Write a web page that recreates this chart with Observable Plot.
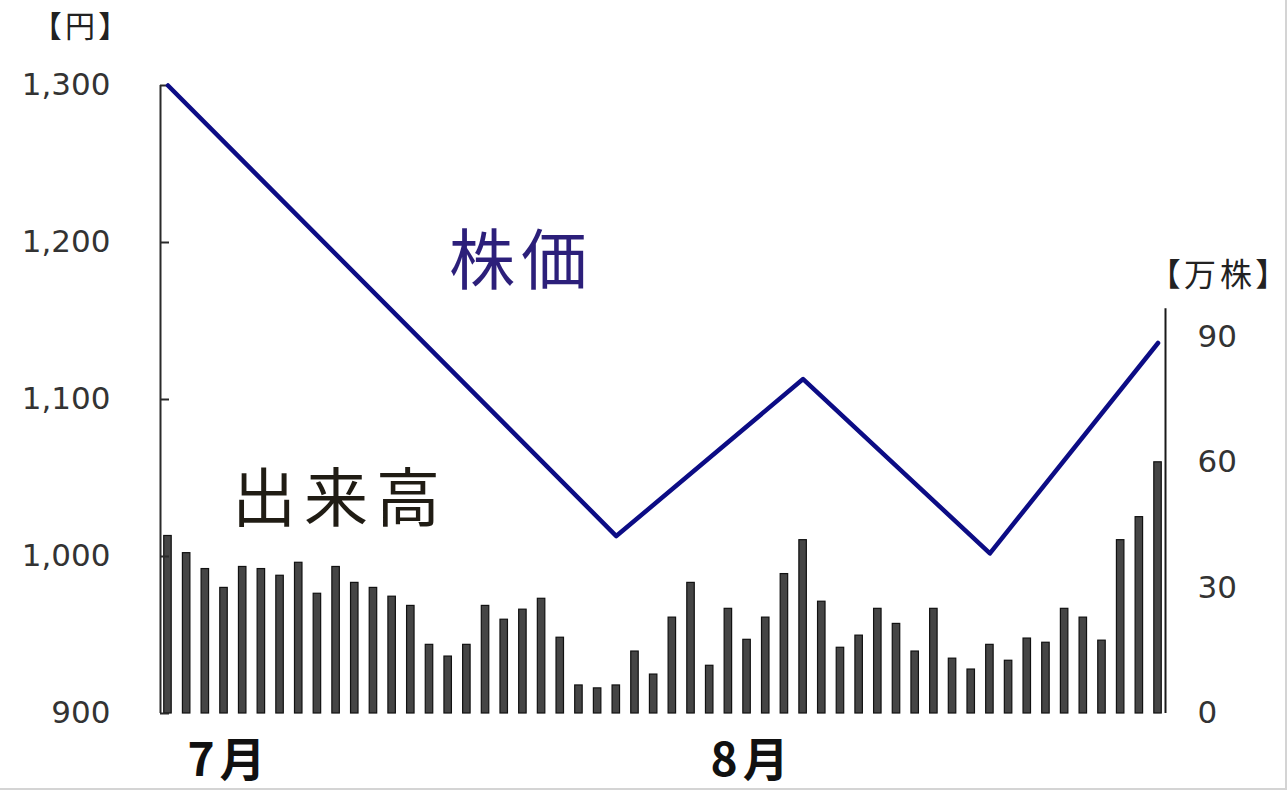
<!DOCTYPE html>
<html><head><meta charset="utf-8">
<script src="https://cdn.jsdelivr.net/npm/d3@7"></script>
<script src="https://cdn.jsdelivr.net/npm/@observablehq/plot@0.6"></script>
<style>
body{margin:0;background:#fff;}
#wrap{position:relative;width:1288px;height:791px;overflow:hidden;background:#fff;}
#wrap svg{position:absolute;left:0;top:0;background:transparent;max-width:none;}
#frame{position:absolute;left:0;top:0;width:1285px;height:788px;border-right:2px solid #d4d4d4;border-bottom:2px solid #d4d4d4;box-sizing:content-box;}
.lbl{position:absolute;transform:translate(-50%,-50%);white-space:nowrap;line-height:1;font-family:"Noto Sans CJK JP",sans-serif;font-feature-settings:"palt";}
.volplot g[aria-label="x-axis tick label"] text{letter-spacing:5px;}
</style></head><body>
<div id="wrap"><div id="frame"></div></div>
<script>
// trading days (category index) and daily volume in 万株
const days = d3.range(1, 55);
const volumes = [42.4,38.3,34.5,30.0,35.0,34.5,32.9,36.0,28.6,35.0,
                 31.2,30.0,27.9,25.7,16.4,13.6,16.4,25.7,22.4,24.8,
                 27.4,18.1,6.7,6.0,6.7,14.8,9.3,22.9,31.2,11.4,
                 25.0,17.6,22.9,33.3,41.4,26.7,15.7,18.6,25.0,21.4,
                 14.8,25.0,13.1,10.5,16.4,12.6,17.9,16.9,25.0,22.9,
                 17.4,41.4,46.9,60.0];
// share price turning points (円)
const priceDays = [1, 25, 35, 45, 54];
const prices = [1300, 1013, 1113, 1002, 1136];
// axis ticks
const priceTicks = [900, 1000, 1100, 1200, 1300];
const volTicks = [0, 30, 60, 90];
const volAxisTop = 96.7;
const monthTickDays = [4, 32];
const monthLabels = ["7月", "8月"];

const volData = days.map((d, i) => ({day: d, vol: volumes[i]}));
const priceData = priceDays.map((d, i) => ({day: d, price: prices[i]}));

const W = 1288, H = 791, mL = 160, mR = 123, mT = 85, mB = 78;
const xDomain = [0.6, 54.4];
const numFont = "DejaVu Sans";
const common = {width: W, height: H, marginLeft: mL, marginRight: mR, marginTop: mT, marginBottom: mB,
  style: {background: "transparent", color: "#2a2a2a", overflow: "visible"}};

const volPlot = Plot.plot({
  ...common,
  className: "volplot",
  x: {domain: xDomain, axis: null},
  y: {domain: [0, 150], axis: null},
  marks: [
    Plot.rectY(volData, {x1: d => d.day - 0.2, x2: d => d.day + 0.2, y: "vol", fill: "#454545", stroke: "#111", strokeWidth: 1.2}),
    Plot.ruleX([xDomain[1]], {y1: 0, y2: volAxisTop, stroke: "#1a1a1a", strokeWidth: 2}),
    Plot.axisY({anchor: "right", ticks: volTicks, tickSize: 0, tickPadding: 32, label: null,
      fontSize: 31, fontFamily: numFont, fill: "#333"}),
    Plot.axisX({anchor: "bottom", ticks: monthTickDays, tickSize: 0, tickPadding: 30, label: null,
      tickFormat: d => monthLabels[monthTickDays.indexOf(d)], dx: 5,
      fontSize: 46, fontWeight: "bold", fontFamily: "Noto Sans CJK JP", fill: "#111"})
  ]
});

const pricePlot = Plot.plot({
  ...common,
  x: {domain: xDomain, axis: null},
  y: {domain: [900, 1300], axis: null},
  marks: [
    Plot.ruleX([xDomain[0]], {stroke: "#2a2a2a", strokeWidth: 2}),
    Plot.tickY(priceTicks, {y: d => d, insetRight: (W - mL - mR) - 9, stroke: "#2a2a2a", strokeWidth: 2}),
    Plot.axisY({anchor: "left", ticks: priceTicks, tickSize: 0, tickPadding: 50, label: null,
      tickFormat: d3.format(","), fontSize: 31, fontFamily: numFont, fill: "#333"}),
    Plot.line(priceData, {x: "day", y: "price", stroke: "#0c0c85", strokeWidth: 4.5})
  ]
});

const wrap = document.getElementById("wrap");
wrap.appendChild(volPlot);
wrap.appendChild(pricePlot);

function addLabel(text, cx, cy, size, color, extra) {
  const el = document.createElement("div");
  el.className = "lbl";
  el.textContent = text;
  el.style.left = cx + "px";
  el.style.top = cy + "px";
  el.style.fontSize = size + "px";
  el.style.color = color;
  Object.assign(el.style, extra || {});
  wrap.appendChild(el);
}
addLabel("【円】", 82, 24, 30, "#222", {letterSpacing: "4px"});
addLabel("【万株】", 1220, 272, 32, "#222", {letterSpacing: "4px"});
addLabel("株価", 521, 255, 66, "#2c1f7a", {letterSpacing: "6px"});
addLabel("出来高", 340, 493, 64, "#201c14", {letterSpacing: "8px"});
</script>
</body></html>
